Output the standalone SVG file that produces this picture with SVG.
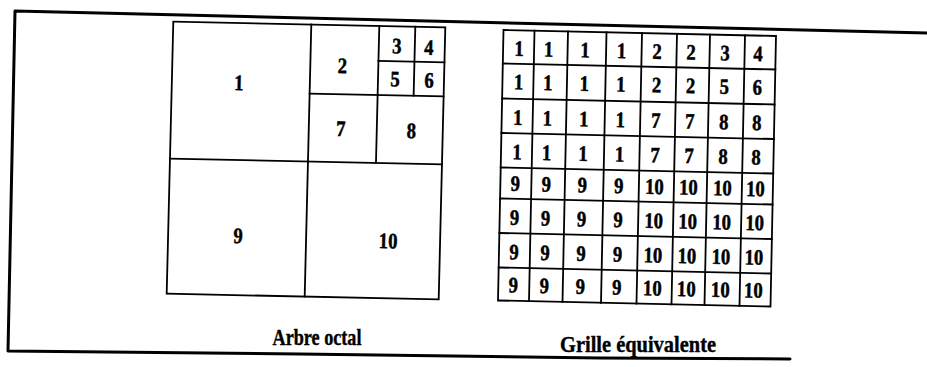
<svg xmlns="http://www.w3.org/2000/svg" width="927" height="367" viewBox="0 0 927 367">
<style>
  .frame { fill: none; stroke: #000; stroke-width: 3; stroke-linecap: round; stroke-linejoin: round; }
  .ln { fill: none; stroke: #000; stroke-width: 1.8; stroke-linecap: square; }
  .d { font-family: "Liberation Serif", "Times New Roman", serif; font-weight: bold; font-size: 22px; fill: #000; stroke: #000; stroke-width: 0.5; text-anchor: middle;
       transform-box: fill-box; transform-origin: center; transform: scaleX(0.85); }
  .cap { font-family: "Liberation Serif", "Times New Roman", serif; font-weight: bold; font-size: 24px; fill: #000; stroke: #000; stroke-width: 0.4; text-anchor: middle; }
</style>
<rect width="927" height="367" fill="#fff"/>

<g id="frame">
  <path class="frame" d="M 927,33 L 15,11 L 8,351 L 300,354 L 600,358 L 790,359"/>
</g>

<!-- Arbre octal -->
<g id="octree" transform="matrix(1,0.0206,-0.0243,1,173.3,21.7)">
  <g id="octree-lines">
    <rect class="ln" x="0" y="0" width="272" height="272"/>
    <line class="ln" x1="138" y1="0" x2="138" y2="272"/>
    <line class="ln" x1="0" y1="137" x2="272" y2="137"/>
    <line class="ln" x1="206" y1="0" x2="206" y2="137"/>
    <line class="ln" x1="138" y1="69" x2="272" y2="69"/>
    <line class="ln" x1="242" y1="0" x2="242" y2="69"/>
    <line class="ln" x1="206" y1="35" x2="272" y2="35"/>
  </g>
  <g id="o1"><text class="d" x="67" y="67">1</text></g>
  <g id="o2"><text class="d" x="170" y="48">2</text></g>
  <g id="o3"><text class="d" x="224" y="27">3</text></g>
  <g id="o4"><text class="d" x="256" y="28">4</text></g>
  <g id="o5"><text class="d" x="223" y="60">5</text></g>
  <g id="o6"><text class="d" x="257" y="60.5">6</text></g>
  <g id="o7"><text class="d" x="170" y="111">7</text></g>
  <g id="o8"><text class="d" x="240.5" y="111.5">8</text></g>
  <g id="o9"><text class="d" x="70" y="220">9</text></g>
  <g id="o10"><text class="d" x="220" y="222">10</text></g>
</g>

<!-- Grille équivalente -->
<g id="grid" transform="matrix(1,0.02202,-0.02033,1,503.5,30)">
  <g id="grid-lines">
    <rect class="ln" x="0" y="0" width="272.5" height="270.5"/>
    <line class="ln" x1="31" y1="0" x2="31" y2="270.5"/>
    <line class="ln" x1="64.5" y1="0" x2="64.5" y2="270.5"/>
    <line class="ln" x1="103" y1="0" x2="103" y2="270.5"/>
    <line class="ln" x1="138.5" y1="0" x2="138.5" y2="270.5"/>
    <line class="ln" x1="173.5" y1="0" x2="173.5" y2="270.5"/>
    <line class="ln" x1="206.5" y1="0" x2="206.5" y2="270.5"/>
    <line class="ln" x1="241.5" y1="0" x2="241.5" y2="270.5"/>
    <line class="ln" x1="0" y1="33.5" x2="272.5" y2="33.5"/>
    <line class="ln" x1="0" y1="68.5" x2="272.5" y2="68.5"/>
    <line class="ln" x1="0" y1="103" x2="272.5" y2="103"/>
    <line class="ln" x1="0" y1="137.5" x2="272.5" y2="137.5"/>
    <line class="ln" x1="0" y1="168.5" x2="272.5" y2="168.5"/>
    <line class="ln" x1="0" y1="203" x2="272.5" y2="203"/>
    <line class="ln" x1="0" y1="237.5" x2="272.5" y2="237.5"/>
  </g>
  <g id="row1">
    <text class="d" x="16" y="25.5">1</text><text class="d" x="45.5" y="25.5">1</text><text class="d" x="82" y="25.5">1</text><text class="d" x="118.5" y="25.5">1</text>
    <text class="d" x="154" y="25.5">2</text><text class="d" x="188" y="25.5">2</text><text class="d" x="222" y="25.5">3</text><text class="d" x="255" y="25.5">4</text>
  </g>
  <g id="row2">
    <text class="d" x="16" y="59">1</text><text class="d" x="45.5" y="59">1</text><text class="d" x="82" y="59">1</text><text class="d" x="118.5" y="59">1</text>
    <text class="d" x="154" y="59">2</text><text class="d" x="188" y="59">2</text><text class="d" x="222" y="59">5</text><text class="d" x="255" y="59">6</text>
  </g>
  <g id="row3">
    <text class="d" x="16" y="94.5">1</text><text class="d" x="45.5" y="94.5">1</text><text class="d" x="82" y="94.5">1</text><text class="d" x="118.5" y="94.5">1</text>
    <text class="d" x="154" y="94.5">7</text><text class="d" x="188" y="94.5">7</text><text class="d" x="222" y="94.5">8</text><text class="d" x="255" y="94.5">8</text>
  </g>
  <g id="row4">
    <text class="d" x="16" y="129">1</text><text class="d" x="45.5" y="129">1</text><text class="d" x="82" y="129">1</text><text class="d" x="118.5" y="129">1</text>
    <text class="d" x="154" y="129">7</text><text class="d" x="188" y="129">7</text><text class="d" x="222" y="129">8</text><text class="d" x="255" y="129">8</text>
  </g>
  <g id="row5">
    <text class="d" x="15" y="160.5">9</text><text class="d" x="46" y="160.5">9</text><text class="d" x="82" y="160.5">9</text><text class="d" x="118.5" y="160.5">9</text>
    <text class="d" x="154" y="160.5">10</text><text class="d" x="188" y="160.5">10</text><text class="d" x="222" y="160.5">10</text><text class="d" x="255" y="160.5">10</text>
  </g>
  <g id="row6">
    <text class="d" x="15" y="194.5">9</text><text class="d" x="46" y="194.5">9</text><text class="d" x="82" y="194.5">9</text><text class="d" x="118.5" y="194.5">9</text>
    <text class="d" x="154" y="194.5">10</text><text class="d" x="188" y="194.5">10</text><text class="d" x="222" y="194.5">10</text><text class="d" x="255" y="194.5">10</text>
  </g>
  <g id="row7">
    <text class="d" x="15" y="229">9</text><text class="d" x="46" y="229">9</text><text class="d" x="82" y="229">9</text><text class="d" x="118.5" y="229">9</text>
    <text class="d" x="154" y="229">10</text><text class="d" x="188" y="229">10</text><text class="d" x="222" y="229">10</text><text class="d" x="255" y="229">10</text>
  </g>
  <g id="row8">
    <text class="d" x="15" y="262">9</text><text class="d" x="46" y="262">9</text><text class="d" x="82" y="262">9</text><text class="d" x="118.5" y="262">9</text>
    <text class="d" x="154" y="262">10</text><text class="d" x="188" y="262">10</text><text class="d" x="222" y="262">10</text><text class="d" x="255" y="262">10</text>
  </g>
</g>

<g id="captions">
  <text id="cap-octree" class="cap" x="317" y="345" textLength="89" lengthAdjust="spacingAndGlyphs">Arbre octal</text>
  <text id="cap-grid" class="cap" x="638" y="352" textLength="156" lengthAdjust="spacingAndGlyphs">Grille équivalente</text>
</g>
</svg>
